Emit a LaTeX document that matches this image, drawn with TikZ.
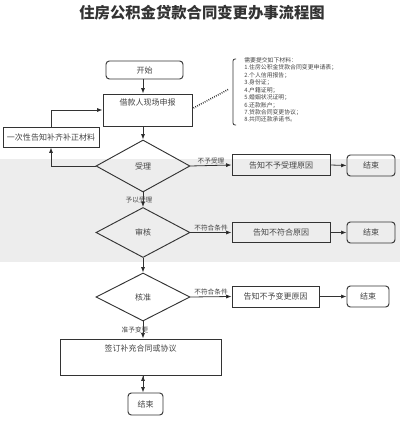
\documentclass[tikz,border=0pt]{standalone}
\usepackage{fontspec}
\setmainfont{Noto Sans CJK SC}
\usetikzlibrary{shapes.geometric,arrows.meta,positioning}
\definecolor{linegray}{HTML}{333333}
\definecolor{txtgray}{HTML}{444444}
\definecolor{bandgray}{HTML}{EDEDED}

\begin{document}
\begin{tikzpicture}[x=0.75pt,y=-0.75pt,>={Latex[length=4pt,width=3pt]},
	box/.style={draw=linegray,line width=0.7pt,rectangle,inner sep=2pt,text=txtgray,font=\fontsize{6}{7}\selectfont},
	endbox/.style={box,rounded corners=2.5pt},
	topbox/.style={box,text height=7pt,text depth=#1},
	check/.style={draw=linegray,line width=0.7pt,diamond,inner sep=0pt,minimum width=70.5pt,text=txtgray,font=\fontsize{6}{7}\selectfont},
	lbl/.style={text=txtgray,font=\fontsize{5}{6}\selectfont,inner sep=1pt}]
			\useasboundingbox (0,0) rectangle (400,423);
			\fill[bandgray] (0,159) rectangle (400,262);
			\node[font=\fontsize{11.5}{13}\selectfont\bfseries,text=linegray] (title) at (202,13) {住房公积金贷款合同变更办事流程图};
			\node[endbox,minimum width=57.75pt,minimum height=13.5pt] (start) at (144.5,70) {开始};
			\node[topbox=13pt,minimum width=66.75pt,minimum height=24pt] (apply) at (147.5,110) {借款人现场申报};
			\node[box,minimum width=72pt,minimum height=15pt] (supply) at (51,137) {一次性告知补齐补正材料};
			\node[check,minimum height=39pt] (accept) at (143,166) {受理};
			\node[box,minimum width=73.5pt,minimum height=15.5pt] (refuse) at (281,165) {告知不予受理原因};
			\node[endbox,minimum width=36pt,minimum height=15.75pt] (end1) at (371,165.5) {结束};
			\node[check,minimum height=37.5pt] (review) at (143,232.5) {审核};
			\node[box,minimum width=73.5pt,minimum height=15.5pt] (unfit) at (281,232.5) {告知不符合原因};
			\node[endbox,minimum width=36pt,minimum height=15.75pt] (end2) at (371,232.5) {结束};
			\node[check,minimum height=36pt] (approve) at (143,297) {核准};
			\node[box,minimum width=65.25pt,minimum height=15.75pt] (nochange) at (275.5,296.5) {告知不予变更原因};
			\node[endbox,minimum width=31.5pt,minimum height=15.75pt] (end3) at (368,296.5) {结束};
			\node[topbox=16pt,minimum width=120.75pt,minimum height=27pt] (sign) at (140.5,357) {签订补充合同或协议};
			\node[endbox,minimum width=26.25pt,minimum height=16.5pt] (end4) at (145.5,404) {结束};
			\node[anchor=north west,align=left,text=txtgray,inner sep=0pt,font=\fontsize{4.4}{5.6}\selectfont] (docs) at (244,57) {需要提交如下材料：\\1.住房公积金贷款合同变更申请表；\\2.个人信用报告；\\3.身份证；\\4.户籍证明；\\5.婚姻状况证明；\\6.还款账户；\\7.贷款合同变更协议；\\8.共同还款承诺书。};
			\draw[linegray,line width=0.6pt,rounded corners=1.5pt] ([xshift=3]docs.north west) ++(-12,2) -- ++(-3,0) -- ++(0,66) -- ++(3,0);
			\draw[linegray,line width=1.2pt,dash pattern=on 0.6pt off 1pt] (apply.east) ++(1,-2) -- (229,89);
			\path[->,draw=linegray,line width=0.6pt]
			(start.south -| accept.north) edge (apply.north -| accept.north)
			(apply.south -| accept.north) edge (accept.north)
			(accept.west) edge[to path={-| (\tikztotarget)}] node[lbl,above,pos=0.27] {材料不全或不} node[lbl,below,pos=0.27] {符合法定形式} (supply.south)
			(supply.north) edge[to path={|- (\tikztotarget)}] (apply.west)
			(accept.east) edge node[lbl,above] {不予受理} (refuse.west)
			(refuse.east) edge (end1.west)
			(accept.south) edge node[lbl,xshift=-3] {予以受理} (review.north)
			(review.east) edge node[lbl,above] {不符合条件} (unfit.west)
			(unfit.east) edge (end2.west)
			(review.south) edge (approve.north)
			(approve.east) edge node[lbl,above] {不符合条件} (nochange.west)
			(nochange.east) edge (end3.west)
			(approve.south) edge node[lbl,xshift=-6] {准予变更} (sign.north -| approve.south)
			(sign.south -| approve.south) edge (end4.north -| approve.south);
		\end{tikzpicture}
\end{document}
